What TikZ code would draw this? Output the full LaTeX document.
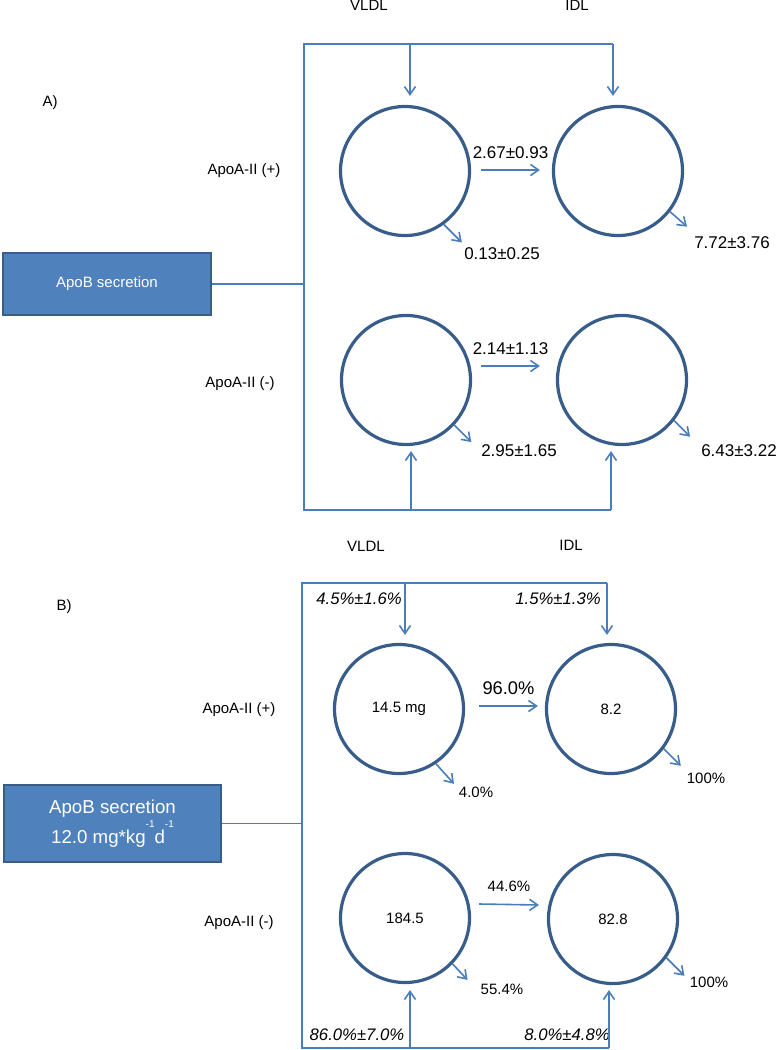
\documentclass[tikz,border=0pt]{standalone}
\usepackage{fontspec}
\setmainfont{Liberation Sans}
\usetikzlibrary{arrows.meta}

\definecolor{linkblue}{RGB}{74,126,187}
\definecolor{poolblue}{RGB}{56,93,138}
\definecolor{boxblue}{RGB}{79,129,189}
\newcommand{\hisup}[1]{\raisebox{16pt}{\fontsize{10}{10}\selectfont #1}}

\tikzset{
  link/.style={draw=linkblue, line width=1.6pt},
  flow/.style={link, -{Straight Barb[length=8pt,width=11pt]}},
  pool/.style={circle, draw=poolblue, line width=3.2pt, minimum size=129pt, inner sep=0pt, font=\fontsize{15}{18}\selectfont},
  secbox/.style={draw=poolblue, fill=boxblue, line width=2pt, text=white, inner sep=0pt},
  lbl/.style={inner sep=0pt, font=\fontsize{15}{18}\selectfont},
  num/.style={inner sep=0pt, font=\fontsize{17}{20}\selectfont},
  pct/.style={inner sep=0pt, font=\fontsize{16.7}{20}\selectfont\itshape},
}

\begin{document}
\begin{tikzpicture}[x=1pt, y=-1pt]
    \useasboundingbox (0,0) rectangle (777,1050);

    % Nodes A
    \node[lbl] (vldlA) at (369,5.5) {VLDL};
    \node[lbl] (idlA) at (577,5.5) {IDL};
    \node[lbl] (tagA) at (50,103) {A)};
    \node[lbl] (plusA) at (244,171) {ApoA-II (+)};
    \node[lbl] (minusA) at (240,384) {ApoA-II (-)};
    \node[secbox, minimum width=208pt, minimum height=62pt, font=\fontsize{15}{18}\selectfont] (secA) at (107,284) {ApoB secretion};
    \node[pool] (vpA) at (405,171) {};
    \node[pool] (ipA) at (618,171) {};
    \node[pool] (vmA) at (406,380) {};
    \node[pool] (imA) at (622,380) {};
    \node[num] (outvpA) at (502,254) {0.13±0.25};
    \node[num] (outipA) at (732,243) {7.72±3.76};
    \node[num] (outvmA) at (519,451) {2.95±1.65};
    \node[num] (outimA) at (739,451) {6.43±3.22};

    \coordinate (cornA) at (304,44);
    \coordinate (vinA) at (410,44);
    \coordinate (iinA) at (613,44);
    \coordinate (vupA) at (411,510);
    \coordinate (iupA) at (611,510);
    \path (vpA.-54) ++(18,18) coordinate (vpendA);
    \path (ipA.-38) ++(17,15) coordinate (ipendA);
    \path (vmA.-43) ++(17,17) coordinate (vmendA);
    \path (imA.-38) ++(16,16) coordinate (imendA);

    % Arrows A
    \draw[link] (iinA) -- (cornA) -- (cornA |- iupA) -- (iupA);
    \draw[link] (secA.east) -- (secA.east -| cornA);
    \draw[flow, shorten >=9pt] (vinA) -- (vinA |- vpA.north);
    \draw[flow, shorten >=9pt] (iinA) -- (iinA |- ipA.north);
    \draw[flow, shorten >=5pt] (vupA) -- (vupA |- vmA.south);
    \draw[flow, shorten >=5pt] (iupA) -- (iupA |- imA.south);
    \draw[flow] ([xshift=10pt,yshift=1pt]vpA.east) -- node[num, above=11pt] (kA1) {2.67±0.93} ([xshift=-12pt,yshift=1pt]ipA.west);
    \draw[flow] ([xshift=9pt,yshift=14pt]vmA.east) -- node[num, above=11pt] (kA2) {2.14±1.13} ([xshift=-16pt,yshift=14pt]imA.west);
    \draw[flow] (vpA.-54) -- (vpendA);
    \draw[flow] (ipA.-38) -- (ipendA);
    \draw[flow] (vmA.-43) -- (vmendA);
    \draw[flow] (imA.-38) -- (imendA);

    % Nodes B
    \node[lbl] (vldlB) at (366,546) {VLDL};
    \node[lbl] (idlB) at (571,545) {IDL};
    \node[lbl] (tagB) at (64,607) {B)};
    \node[lbl] (plusB) at (239,710) {ApoA-II (+)};
    \node[lbl] (minusB) at (239,923) {ApoA-II (-)};
    \node[secbox, minimum width=217pt, minimum height=77pt, align=center, font=\fontsize{18.7}{30}\selectfont] (secB) at (112.5,823.5) {ApoB secretion\\12.0 mg*kg\hisup{-1}d\hisup{-1}};
    \node[pool] (vpB) at (399,709) {14.5 mg};
    \node[pool] (ipB) at (611,709) {8.2};
    \node[pool] (vmB) at (405,918) {184.5};
    \node[pool] (imB) at (613,919) {82.8};
    \node[pct] (fvB) at (359,599) {4.5\%±1.6\%};
    \node[pct] (fiB) at (558,599) {1.5\%±1.3\%};
    \node[pct] (gvB) at (357,1035) {86.0\%±7.0\%};
    \node[pct] (giB) at (567,1035) {8.0\%±4.8\%};
    \node[lbl] (outvpB) at (476,792) {4.0\%};
    \node[lbl] (outipB) at (706,778) {100\%};
    \node[lbl] (outvmB) at (502,989) {55.4\%};
    \node[lbl] (outimB) at (709,982) {100\%};

    \coordinate (cornB) at (302,583);
    \coordinate (vinB) at (405,583);
    \coordinate (iinB) at (607,583);
    \coordinate (vupB) at (410,1048);
    \coordinate (iupB) at (609,1048);
    \path (vpB.-56) ++(18,20) coordinate (vpendB);
    \path (ipB.-37) ++(17,17) coordinate (ipendB);
    \path (vmB.-44) ++(15,16) coordinate (vmendB);
    \path (imB.-36) ++(18,18) coordinate (imendB);

    % Arrows B
    \draw[link] (iinB) -- (cornB) -- (cornB |- iupB) -- (iupB);
    \draw[link] (secB.east) -- (secB.east -| cornB);
    \draw[flow, shorten >=8pt] (vinB) -- (vinB |- vpB.north);
    \draw[flow, shorten >=8pt] (iinB) -- (iinB |- ipB.north);
    \draw[flow, shorten >=6pt] (vupB) -- (vupB |- vmB.south);
    \draw[flow, shorten >=5pt] (iupB) -- (iupB |- imB.south);
    \draw[flow] ([xshift=14pt,yshift=3pt]vpB.east) -- node[above=11pt, inner sep=0pt, font=\fontsize{18.3}{22}\selectfont] (kB1) {96.0\%} ([xshift=-7pt,yshift=3pt]ipB.west);
    \draw[flow] ([xshift=8pt,yshift=14pt]vmB.east) -- node[lbl, above=12pt] (kB2) {44.6\%} ([xshift=-8pt,yshift=14pt]imB.west);
    \draw[flow] (vpB.-56) -- (vpendB);
    \draw[flow] (ipB.-37) -- (ipendB);
    \draw[flow] (vmB.-44) -- (vmendB);
    \draw[flow] (imB.-36) -- (imendB);
\end{tikzpicture}
\end{document}
